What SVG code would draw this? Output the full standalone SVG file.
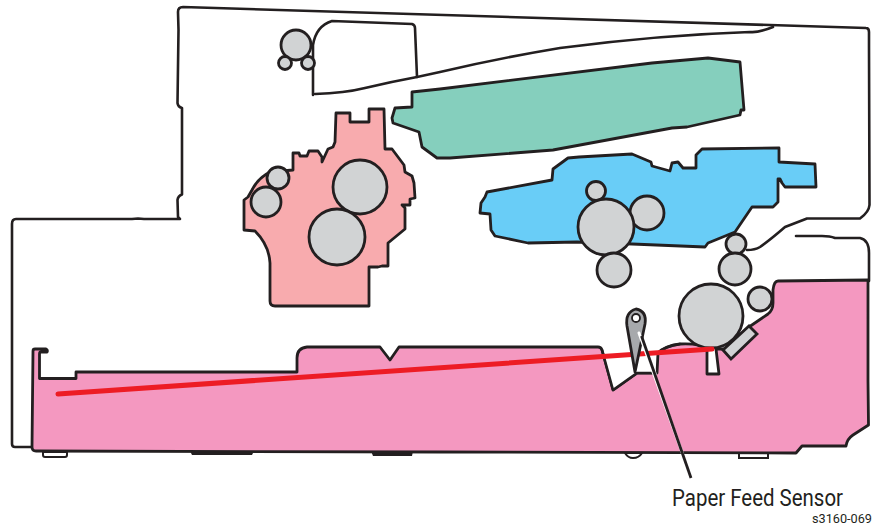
<svg xmlns="http://www.w3.org/2000/svg" width="881" height="526" viewBox="0 0 881 526">
<style>
.o{fill:none;stroke:#231f20;stroke-width:2.600;stroke-linejoin:round;stroke-linecap:round}
.s{stroke:#231f20;stroke-width:2.800;stroke-linejoin:round}
.r{fill:#d1d3d4;stroke:#231f20;stroke-width:2.800}
.t{font-family:Roboto,"Noto Sans",sans-serif;fill:#231f20}
.w{fill:#fff;stroke:#231f20;stroke-width:2}
</style>
<rect width="881" height="526" fill="#fff"/>
<g id="frame">
<path class="o" d="M32 447H15Q12 447 12 444V224Q12 219 16 219H132L138 218.500L144 219H180L178 217L177.500 200Q178 196 182 194.500V108Q178 107 177.500 103L178.500 30L178 12Q178 7 183 7L866 28Q869 28 869 32V47L869.500 205Q869 212 860 218.500H807L785 227Q770 240 760 247Q755 250 747 250"/>
<path class="o" d="M796 236H822Q830 236 835 238H860Q869 240 869 253V281"/>
<path class="o" d="M313 95V45Q316 26 332 21L412 24Q415 25 415 28L417 77"/>
<path class="o" d="M315 94Q345 93 365 88Q390 82 417 77L440 72Q500 58 560 48Q660 35 750 32Q758 33 773 27"/>
</g>
<g id="tray">
<path class="w" d="M43 452H67V455Q67 457 65 457H45Q43 457 43 455Z"/>
<path class="w" d="M739 452H768V458H739Z"/>
<path class="w" d="M625 453Q628 458 633 458Q639 458 642 453Z"/>
<path fill="#231f20" d="M190 451H254L252 455H192ZM371 451H413L412 456H373Z"/>
<path class="s" fill="#f498c0" d="M33 351Q33 349 35 349H46Q48 350 47 352H41Q39.500 352 39.500 354V378.500H76V372H297V358Q297 348 307 347H380L390 360L399 347H598Q601 347 602 350L613 390L637 373H652L657 373L658 353Q665 346 680 344Q700 343 707 349L707 374H719L716 349L724 349L749 327L768 314Q773 310 773 303V290Q774 281 778 281L868 280V381L868.500 425L853 435Q847 439 846 446H802L796 453L440 452L36 451Q32 451 32 447Z"/>
<path fill="#fff" stroke="none" d="M604 354L613 389L637 374H652L657 375L651 354L640 352Z"/>
<path class="o" d="M602 350L613 390L637 373H652"/>
<path class="o" d="M658 353Q665 346 680 344"/>
<path class="r" d="M723 350L749 326L757 334L731 359Z"/>
</g>
<g id="fuser">
<path class="s" fill="#f8abae" d="M336 113H350V122H369V109H384L385 149H392L404 165L405 172L412 176L414 183L415 198L410 199V205H402L405 208V229L388 243V266L382 266L378 267H369V306H275Q270 306 270 301V263Q269 245 255 231L244 230V200L248 197L252 190Q258 178 270 172L293 170V153H299L300 156H307L309 151H318L322 157V162L328 149L333 147L335 142Z"/>
<circle class="r" cx="360" cy="187" r="27"/>
<circle class="r" cx="337" cy="237" r="28"/>
<circle class="r" cx="278" cy="178" r="11"/>
<circle class="r" cx="266" cy="202" r="15"/>
</g>
<g id="laser">
<path class="s" fill="#85cfbd" d="M412 92L412 107L395 108L392 118L393 123L419 132L422 147L437 158H450L553 150L672 128L687 127L740 115L741 110L744 110L740 62L708 58L652 63L440 89Z"/>
</g>
<g id="toner">
<path class="s" fill="#69cdf7" d="M487 192L552 180L553 169L568 158L579 157L632 154L651 162L652 166L670 171L672 163L678 162L683 168H696V155L702 149L779 148V162L815 164L816 187H785L782 183L780 179H778V202L773 207H752L735 232L708 243L705 247L632 244L577 242L528 243L495 236L491 230L490 214L480 213L481 203L485 197Z"/>
<circle class="r" cx="596" cy="191" r="9.500"/>
<circle class="r" cx="647" cy="213" r="17"/>
<circle class="r" cx="606" cy="227" r="28"/>
</g>
<g id="rollers">
<circle class="r" cx="296" cy="45" r="15"/>
<circle class="r" cx="285" cy="63" r="6.500"/>
<circle class="r" cx="308" cy="63" r="6.500"/>
<circle class="r" cx="614" cy="270" r="17"/>
<circle class="r" cx="736" cy="244" r="10"/>
<circle class="r" cx="735" cy="269" r="16"/>
<circle class="r" cx="760" cy="299" r="12"/>
<circle class="r" cx="711" cy="316" r="32"/>
</g>
<path id="paper-path" fill="none" stroke="#ed1c24" stroke-width="5" stroke-linecap="round" d="M58 394L712 349"/>
<g id="sensor">
<path fill="#a7a9ac" stroke="#231f20" stroke-width="2.800" stroke-linejoin="round" d="M635 372L627 326Q625 312 636 309Q647 311 645 324Z"/>
<circle cx="636" cy="318" r="4" fill="#fff" stroke="#231f20" stroke-width="1.800"/>
</g>
<g id="connectors">
<path fill="none" stroke="#fff" stroke-width="3" stroke-linecap="round" d="M639 333L683 455"/>
<path fill="none" stroke="#231f20" stroke-width="2.800" d="M641.500 336L691 478"/>
</g>
<g id="labels">
<text class="t" x="672" y="506" font-size="23" textLength="171" lengthAdjust="spacingAndGlyphs">Paper Feed Sensor</text>
<text class="t" x="812" y="523" font-size="13" textLength="60" lengthAdjust="spacingAndGlyphs">s3160-069</text>
</g>
</svg>
